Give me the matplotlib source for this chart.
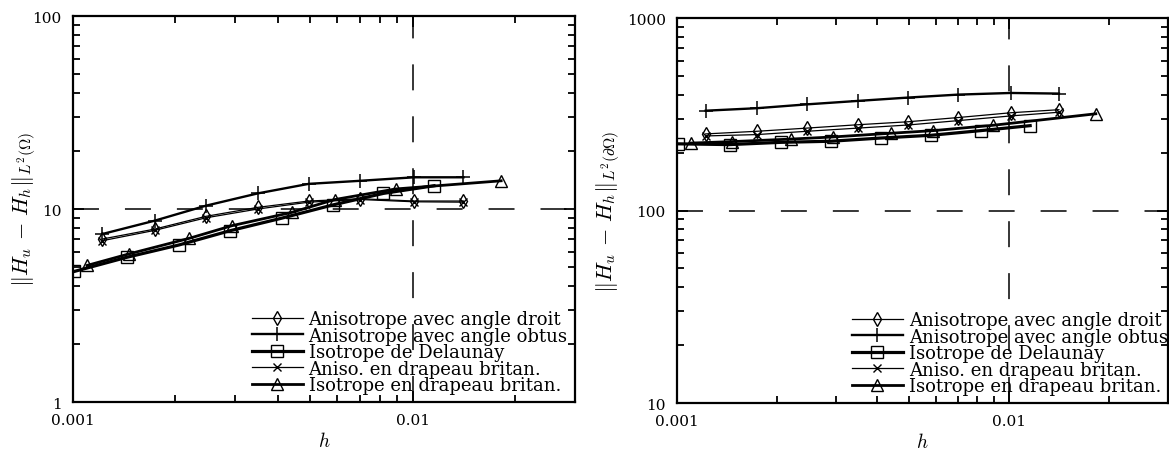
import matplotlib
matplotlib.use("Agg")
import matplotlib.pyplot as plt
from matplotlib.ticker import FixedLocator, FixedFormatter, NullFormatter

# Series labels (shared by both panels)
labels = [
    "Anisotrope avec angle droit",
    "Anisotrope avec angle obtus",
    "Isotrope de Delaunay",
    "Aniso. en drapeau britan.",
    "Isotrope en drapeau britan.",
]

# Mesh sizes h for each family of meshes
h_aniso = [0.00122, 0.00174, 0.00246, 0.0035, 0.00494, 0.0070, 0.0101, 0.0141]
h_delaunay = [0.00101, 0.00144, 0.00205, 0.0029, 0.00411, 0.00582, 0.0082, 0.01155]
h_flag = [0.0011, 0.00146, 0.0022, 0.00294, 0.0044, 0.0059, 0.0089, 0.0182]

# Error in L2(Omega)
dom_droit = [6.99, 7.87, 9.16, 10.2, 11.0, 11.3, 11.0, 11.0]
dom_obtus = [7.42, 8.70, 10.4, 12.05, 13.5, 14.0, 14.6, 14.6]
dom_delaunay = [4.75, 5.62, 6.51, 7.72, 8.96, 10.5, 12.05, 13.2]
dom_aniso_flag = [6.85, 7.75, 9.0, 10.0, 10.85, 11.2, 10.9, 10.85]
dom_iso_flag = [5.1, 5.85, 7.05, 8.2, 9.6, 11.2, 12.7, 14.0]

# Error in L2(boundary)
bnd_droit = [250, 258, 268, 279, 289, 304, 322, 334]
bnd_obtus = [330, 340, 356, 371, 386, 400, 408, 405]
bnd_delaunay = [222, 220, 226, 229, 238, 246, 260, 276]
bnd_aniso_flag = [244, 248, 258, 268, 278, 293, 310, 324]
bnd_iso_flag = [224, 228, 235, 241, 252, 260, 277, 318]

x_ticks = [0.001, 0.01]
x_ticklabels = ["0.001", "0.01"]
left_yticks = [1, 10, 100]
left_yticklabels = ["1", "10", "100"]
right_yticks = [10, 100, 1000]
right_yticklabels = ["10", "100", "1000"]

plt.rcParams["font.family"] = ["DejaVu Serif"]
plt.rcParams["mathtext.fontset"] = "cm"

fig = plt.figure(figsize=(11.69, 4.56), dpi=100)
ax1 = fig.add_axes([0.0624, 0.1162, 0.4294, 0.8465])
ax2 = fig.add_axes([0.5791, 0.1140, 0.4200, 0.8443])

styles = [
    dict(marker="d", ms=7.5, lw=0.9),
    dict(marker="+", ms=10, lw=1.7, mew=1.1),
    dict(marker="s", ms=8, lw=2.3),
    dict(marker="x", ms=6, lw=0.9),
    dict(marker="^", ms=8.5, lw=2.0),
]


def draw(ax, hs, vals, ylim, yticks, yticklabels, ref, ylabel, label_x):
    ax.set_xscale("log")
    ax.set_yscale("log")
    for h, v, lab, st in zip(hs, vals, labels, styles):
        ax.plot(h, v, color="black", mfc="none", mec="black",
                mew=st.get("mew", 1.0), marker=st["marker"], ms=st["ms"],
                lw=st["lw"], label=lab, zorder=3)
    ax.axhline(ref, color="black", lw=1.1, dashes=(17, 17), zorder=1)
    ax.axvline(0.01, color="black", lw=1.1, dashes=(17, 17), zorder=1)
    ax.set_xlim(0.001, 0.03)
    ax.set_ylim(*ylim)
    ax.xaxis.set_major_locator(FixedLocator(x_ticks))
    ax.xaxis.set_major_formatter(FixedFormatter(x_ticklabels))
    ax.xaxis.set_minor_formatter(NullFormatter())
    ax.yaxis.set_major_locator(FixedLocator(yticks))
    ax.yaxis.set_major_formatter(FixedFormatter(yticklabels))
    ax.yaxis.set_minor_formatter(NullFormatter())
    ax.tick_params(which="both", direction="in", top=True, right=True,
                   width=1.3, labelsize=11)
    ax.tick_params(which="major", length=8)
    ax.tick_params(which="minor", length=5)
    ax.tick_params(axis="x", which="both", pad=8)
    ax.tick_params(axis="y", which="both", pad=8)
    for sp in ax.spines.values():
        sp.set_linewidth(1.6)
    ax.set_xlabel("$h$", fontsize=14, labelpad=3)
    ax.set_ylabel(ylabel, fontsize=16)
    ax.yaxis.set_label_coords(label_x, 0.5)
    ax.legend(loc="lower left", bbox_to_anchor=(0.356, 0.02),
              frameon=False, fontsize=13, labelspacing=-0.08,
              handlelength=2.85, handletextpad=0.3, borderpad=0.0,
              borderaxespad=0.0, numpoints=1)


draw(ax1, [h_aniso, h_aniso, h_delaunay, h_aniso, h_flag],
     [dom_droit, dom_obtus, dom_delaunay, dom_aniso_flag, dom_iso_flag],
     (1, 100), left_yticks, left_yticklabels, 10,
     r"$\Vert H_u\,-\,H_h\Vert_{L^2(\Omega)}$", -0.070)
draw(ax2, [h_aniso, h_aniso, h_delaunay, h_aniso, h_flag],
     [bnd_droit, bnd_obtus, bnd_delaunay, bnd_aniso_flag, bnd_iso_flag],
     (10, 1000), right_yticks, right_yticklabels, 100,
     r"$\Vert H_u\,-\,H_h\Vert_{L^2(\partial\Omega)}$", -0.112)

fig.savefig("out.png", dpi=100, facecolor="white")
